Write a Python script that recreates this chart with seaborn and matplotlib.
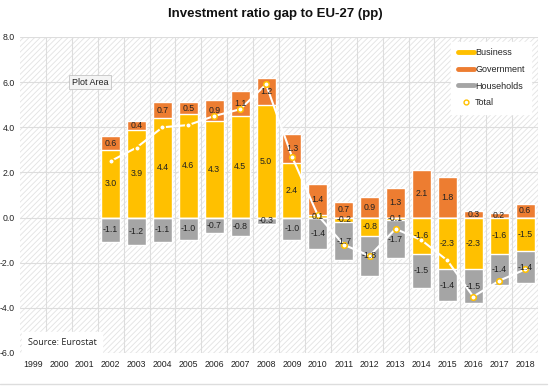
import matplotlib
matplotlib.use("Agg")
import matplotlib.pyplot as plt
from matplotlib.lines import Line2D
import seaborn as sns
import pandas as pd

years = [str(y) for y in range(1999, 2019)]
data_years = [str(y) for y in range(2002, 2019)]
business = [3.0, 3.9, 4.4, 4.6, 4.3, 4.5, 5.0, 2.4, 0.1, -0.2, -0.8, -0.1, -1.6, -2.3, -2.3, -1.6, -1.5]
government = [0.6, 0.4, 0.7, 0.5, 0.9, 1.1, 1.2, 1.3, 1.4, 0.7, 0.9, 1.3, 2.1, 1.8, 0.3, 0.2, 0.6]
households = [-1.1, -1.2, -1.1, -1.0, -0.7, -0.8, -0.3, -1.0, -1.4, -1.7, -1.8, -1.7, -1.5, -1.4, -1.5, -1.4, -1.4]
total = [2.5, 3.1, 4.0, 4.1, 4.5, 4.8, 5.9, 2.7, 0.1, -1.2, -1.7, -0.5, -1.0, -1.9, -3.5, -2.8, -2.3]

c_bus = "#FFC000"
c_gov = "#ED7D31"
c_hh = "#A5A5A5"

df = pd.DataFrame({"year": data_years, "business": business,
                   "government": government, "households": households, "total": total})
df["bus_pos"] = df["business"].clip(lower=0)
df["bus_neg"] = df["business"].clip(upper=0)
df["pos_top"] = df["bus_pos"] + df["government"]
df["neg_bot"] = df["bus_neg"] + df["households"]

sns.set_theme(style="white")
plt.rcParams["font.family"] = ["Liberation Sans", "DejaVu Sans"]
plt.rcParams["hatch.linewidth"] = 0.6
plt.rcParams["hatch.color"] = "#e2e2e2"

fig = plt.figure(figsize=(5.5, 3.88), dpi=100)
ax = fig.add_axes([20 / 550, 1 - 353 / 388, 518 / 550, 316 / 388])
ax.patch.set_facecolor("white")
ax.patch.set_hatch("//////")
ax.patch.set_edgecolor("#e2e2e2")

w = 0.73
# stacked bars drawn by overlay
sns.barplot(data=df, x="year", y="pos_top", order=years, color=c_gov, width=w,
            saturation=1, ax=ax, zorder=2)
sns.barplot(data=df, x="year", y="bus_pos", order=years, color=c_bus, width=w,
            saturation=1, ax=ax, zorder=2)
sns.barplot(data=df, x="year", y="neg_bot", order=years, color=c_hh, width=w,
            saturation=1, ax=ax, zorder=2)
sns.barplot(data=df, x="year", y="bus_neg", order=years, color=c_bus, width=w,
            saturation=1, ax=ax, zorder=2)

# segment labels
for i, r in df.iterrows():
    xi = years.index(r["year"])
    b = r["business"]
    if b >= 0:
        by = b / 2
        gy = b + r["government"] / 2
        hy = r["households"] / 2
    else:
        by = b / 2
        gy = r["government"] / 2
        hy = b + r["households"] / 2
    kw = dict(ha="center", va="center", fontsize=6.3, color="#222222", zorder=4)
    ax.text(xi, by, f"{b:.1f}", **kw)
    ax.text(xi, gy, f"{r['government']:.1f}", **kw)
    ax.text(xi, hy, f"{r['households']:.1f}", **kw)

sns.pointplot(data=df, x="year", y="total", order=years, color="white",
              markers="o", markersize=4, linewidth=1.5, ax=ax,
              markeredgecolor=c_bus, markerfacecolor="white", zorder=3)

ax.set_ylim(-6, 8)
ax.set_xlim(-0.5, 19.5)
ax.set_yticks(range(-6, 9, 2))
ax.set_yticklabels([f"{v:.1f}" for v in range(-6, 9, 2)], fontsize=6.3, color="#222222")
ax.tick_params(axis="x", labelsize=6.3, colors="#222222", length=0, pad=5)
ax.tick_params(axis="y", length=0, pad=4)
ax.set_xlabel("")
ax.set_ylabel("")

for v in range(-6, 9, 2):
    ax.axhline(v, color="#dddddd", lw=0.8, zorder=1)
for k in range(20):
    ax.axvline(k + 0.5, color="#dddddd", lw=0.8, zorder=1)
for s in ax.spines.values():
    s.set_visible(False)

handles = [Line2D([], [], color=c_bus, lw=3.5),
           Line2D([], [], color=c_gov, lw=3.5),
           Line2D([], [], color=c_hh, lw=3.5),
           Line2D([], [], color=c_bus, marker="o", ls="", markersize=3.5,
                  markerfacecolor="white", markeredgewidth=1)]
leg = ax.legend(handles, ["Business", "Government", "Households", "Total"],
                loc="upper right", bbox_to_anchor=(0.99, 0.99), fontsize=6.5,
                frameon=True, fancybox=False, handlelength=1.8, labelspacing=0.85,
                borderpad=0.7, handletextpad=0.15, borderaxespad=0.2)
leg.get_frame().set_facecolor("white")
leg.get_frame().set_edgecolor("white")
leg.get_frame().set_alpha(1)

ax.text(0.015, 0.02, "Source: Eurostat", transform=ax.transAxes, fontsize=6.5,
        family=["Open Sans", "DejaVu Sans"], color="#222222", va="bottom",
        bbox=dict(facecolor="white", edgecolor="white", pad=4), zorder=5)
ax.text(2.05 - 0.55, 6.0, "Plot Area", fontsize=6.5, color="#222222", va="center",
        bbox=dict(facecolor="#f4f4f4", edgecolor="#bbbbbb", lw=0.5, pad=2), zorder=5)

fig.text(0.5, 1 - 14 / 388, "Investment ratio gap to EU-27 (pp)", ha="center",
         va="center", fontsize=9.5, fontweight="bold", color="#111111")
fig.add_artist(Line2D([0, 0.995], [1 - 384 / 388] * 2, color="#dddddd", lw=1))

fig.savefig("out.png", dpi=100)
